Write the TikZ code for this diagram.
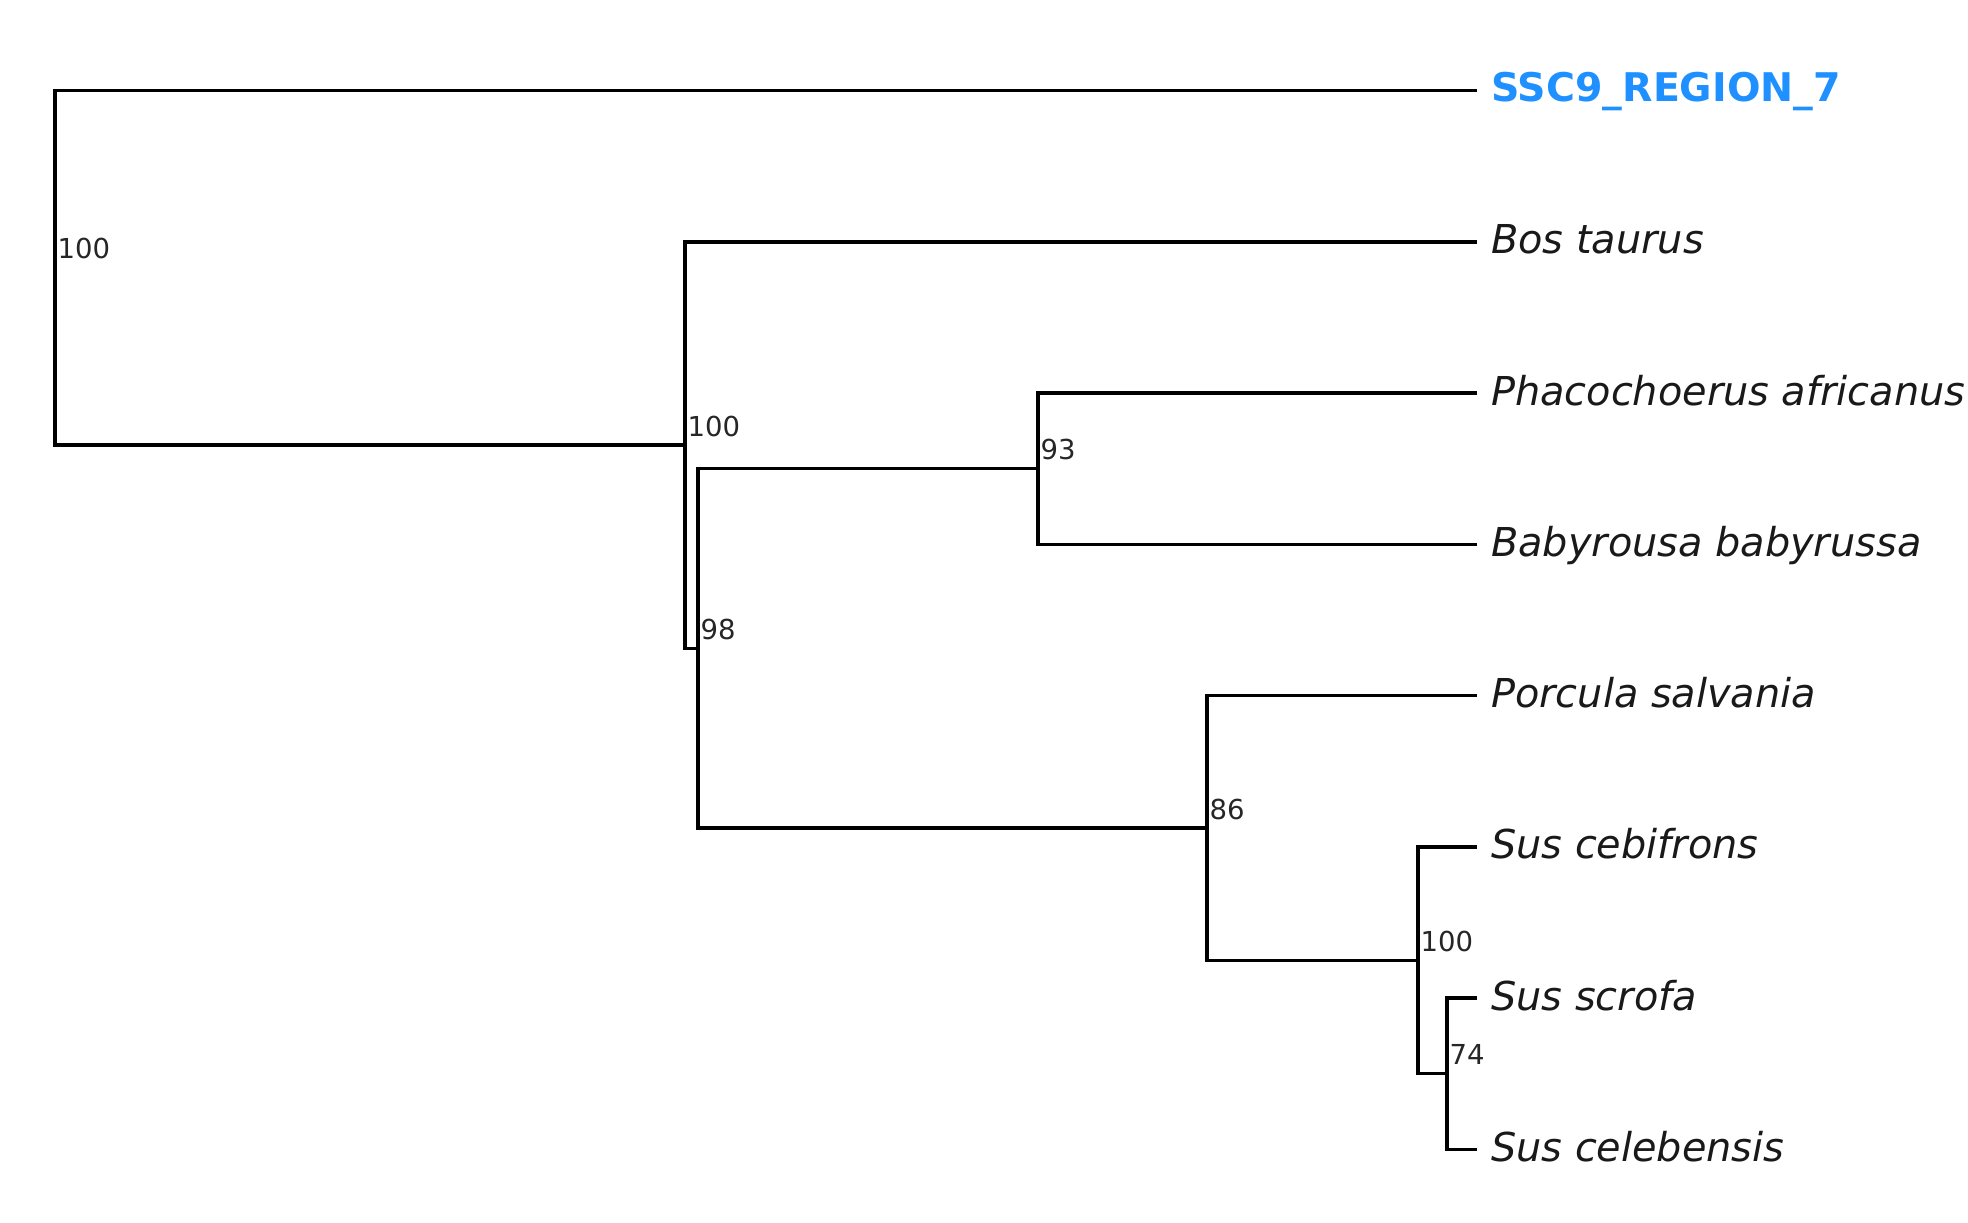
\documentclass[tikz,border=0pt]{standalone}
\usepackage{fontspec}
\setmainfont{DejaVu Sans}
\definecolor{ssc}{HTML}{1E90FF}
\begin{document}
\begin{tikzpicture}[x=1pt,y=-1pt,
  branch/.style={line width=3.4pt, black, line join=miter},
  leaflab/.style={anchor=base west, inner sep=0pt, xshift=14pt, yshift=-12pt,
    font=\fontsize{39.8}{47}\selectfont\itshape, text=black!90},
  querylab/.style={anchor=base west, inner sep=0pt, xshift=14pt, yshift=-11pt,
    font=\fontsize{39.5}{47}\selectfont\bfseries, text=ssc},
  supp/.style={anchor=base west, inner sep=0pt, xshift=2.5pt, yshift=9pt,
    font=\fontsize{27.5}{32}\selectfont, text=black!85}]
\useasboundingbox (0,0) rectangle (1968,1223);
% leaf tips
\coordinate (t1) at (1477,90.5);
\coordinate (t2) at (1477,241.8);
\coordinate (t3) at (1477,393.0);
\coordinate (t4) at (1477,544.3);
\coordinate (t5) at (1477,695.6);
\coordinate (t6) at (1477,846.8);
\coordinate (t7) at (1477,998.1);
\coordinate (t8) at (1477,1149.3);
% internal nodes
\coordinate (root) at (55,267.8);
\coordinate (nA) at (685,445.1);
\coordinate (nB) at (698,648.4);
\coordinate (nC) at (1038,468.6);
\coordinate (nD) at (1207,828.1);
\coordinate (nE) at (1418,960.5);
\coordinate (nF) at (1447,1073.7);
% branches
\draw[branch] (t1) -| (root) |- (nA);
\draw[branch] (t2) -| (nA) |- (nB);
\draw[branch] (nC) -| (nB) |- (nD);
\draw[branch] (t3) -| (nC) |- (t4);
\draw[branch] (t5) -| (nD) |- (nE);
\draw[branch] (t6) -| (nE) |- (nF);
\draw[branch] (t7) -| (nF) |- (t8);
% leaf labels
\node[querylab] (l1) at (t1) {SSC9\_REGION\_7};
\node[leaflab] (l2) at (t2) {Bos taurus};
\node[leaflab] (l3) at (t3) {Phacochoerus africanus};
\node[leaflab] (l4) at (t4) {Babyrousa babyrussa};
\node[leaflab] (l5) at (t5) {Porcula salvania};
\node[leaflab] (l6) at (t6) {Sus cebifrons};
\node[leaflab] (l7) at (t7) {Sus scrofa};
\node[leaflab] (l8) at (t8) {Sus celebensis};
% support values
\node[supp] (s1) at (root) {100};
\node[supp] (s2) at (nA) {100};
\node[supp] (s3) at (nB) {98};
\node[supp] (s4) at (nC) {93};
\node[supp] (s5) at (nD) {86};
\node[supp] (s6) at (nE) {100};
\node[supp] (s7) at (nF) {74};
\end{tikzpicture}
\end{document}
